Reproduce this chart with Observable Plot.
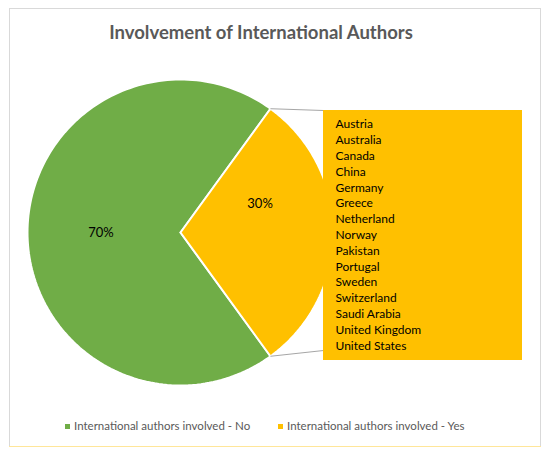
<!DOCTYPE html>
<html>
<head>
<meta charset="utf-8">
<script src="https://cdn.jsdelivr.net/npm/d3@7"></script>
<script src="https://cdn.jsdelivr.net/npm/@observablehq/plot@0.6"></script>
<style>
  html, body { margin: 0; padding: 0; background: #fff; }
  #frame { position: relative; width: 550px; height: 457px; background: #fff; overflow: hidden; font-family: Lato, "Open Sans", sans-serif; }
  #border { position: absolute; left: 9px; top: 8px; width: 532px; height: 439px; box-sizing: border-box; border: 1px solid #d9d9d9; }
  #underline { position: absolute; left: 9px; top: 446px; width: 532px; height: 1px; background: #ffe699; }
  #title { position: absolute; left: 0; top: 21px; width: 522px; text-align: center; font-weight: bold; font-size: 18.5px; color: #595959; }
  #chart { position: absolute; left: 0; top: 55px; }
  .leg { position: absolute; top: 419px; font-size: 11.5px; color: #595959; white-space: nowrap; }
  .sw { display: inline-block; width: 5px; height: 5px; margin-right: 4px; vertical-align: middle; position: relative; top: -1px; }
</style>
</head>
<body>
<div id="frame">
  <div id="border"></div>
  <div id="underline"></div>
  <div id="title"></div>
  <div id="chart"></div>
</div>
<script>
// ---- data ----
const titleText = "Involvement of International Authors";
const categories = ["International authors involved - No", "International authors involved - Yes"];
const shares = [70, 30];
const sliceLabels = ["70%", "30%"];
const countries = ["Austria", "Australia", "Canada", "China", "Germany", "Greece", "Netherland", "Norway",
  "Pakistan", "Portugal", "Sweden", "Switzerland", "Saudi Arabia", "United Kingdom", "United States"];
const colors = ["#70AD47", "#FFC000"];

// ---- layout (pie radius = 1 unit) ----
const W = 550, H = 350, R = 153, cx = 180, cy = 177;
const legendLeft = [65, 278];
const labelRadius = 0.52;
const labelLift = [0, 0.19];
const box = {x1: (323 - cx) / R, x2: (522 - cx) / R, y1: (cy - 305) / R, y2: (cy - 55) / R};
const listX = (335 - cx) / R, listTop = (cy - 69) / R, listStep = 15.8 / R;
const lowerLinkY = box.y1 + 10 / R;

document.getElementById("title").textContent = titleText;

const total = d3.sum(shares);
const start = Math.PI / 2 + (shares[1] / total) * Math.PI;
const arcs = d3.pie().sort(null).startAngle(start).endAngle(start + 2 * Math.PI)(shares);

const pt = (a, r = 1) => ({x: r * Math.sin(a), y: r * Math.cos(a)});
const wedges = arcs.map((a, i) => {
  const pts = [{...pt(0, 0)}];
  const n = 160;
  for (let k = 0; k <= n; k++) pts.push(pt(a.startAngle + (a.endAngle - a.startAngle) * k / n));
  pts.push({...pt(0, 0)});
  return pts.map(p => ({...p, cat: categories[i]}));
});
const labels = arcs.map((a, i) => {
  const m = (a.startAngle + a.endAngle) / 2;
  const p = pt(m, labelRadius);
  return {x: p.x, y: p.y + labelLift[i], text: sliceLabels[i]};
});
const yes = arcs[1];
const links = [
  {...(() => { const p = pt(yes.startAngle); return {x1: p.x, y1: p.y}; })(), x2: box.x1, y2: box.y2},
  {...(() => { const p = pt(yes.endAngle); return {x1: p.x, y1: p.y}; })(), x2: box.x1, y2: lowerLinkY}
];
const listRows = countries.map((c, i) => ({x: listX, y: listTop - i * listStep, text: c}));

const plot = Plot.plot({
  width: W, height: H,
  margin: 0,
  x: {domain: [-cx / R, (W - cx) / R], range: [0, W], axis: null},
  y: {domain: [-(H - cy) / R, cy / R], range: [H, 0], axis: null},
  style: {fontFamily: "Lato, 'Open Sans', sans-serif", background: "transparent"},
  marks: [
    ...wedges.map((w, i) => Plot.line(w, {x: "x", y: "y", fill: colors[i], stroke: "#fff", strokeWidth: 2, strokeLinejoin: "miter"})),
    Plot.link(links, {x1: "x1", y1: "y1", x2: "x2", y2: "y2", stroke: "#a6a6a6", strokeWidth: 1}),
    Plot.rect([box], {x1: "x1", x2: "x2", y1: "y1", y2: "y2", fill: colors[1]}),
    Plot.text(labels, {x: "x", y: "y", text: "text", fontSize: 13, fill: "#000"}),
    Plot.text(listRows, {x: "x", y: "y", text: "text", textAnchor: "start", fontSize: 12, fill: "#000"})
  ]
});
document.getElementById("chart").appendChild(plot);

const frame = document.getElementById("frame");
categories.forEach((c, i) => {
  const d = document.createElement("div");
  d.className = "leg";
  d.style.left = legendLeft[i] + "px";
  const s = document.createElement("span");
  s.className = "sw";
  s.style.background = colors[i];
  d.appendChild(s);
  d.appendChild(document.createTextNode(c));
  frame.appendChild(d);
});
</script>
</body>
</html>
